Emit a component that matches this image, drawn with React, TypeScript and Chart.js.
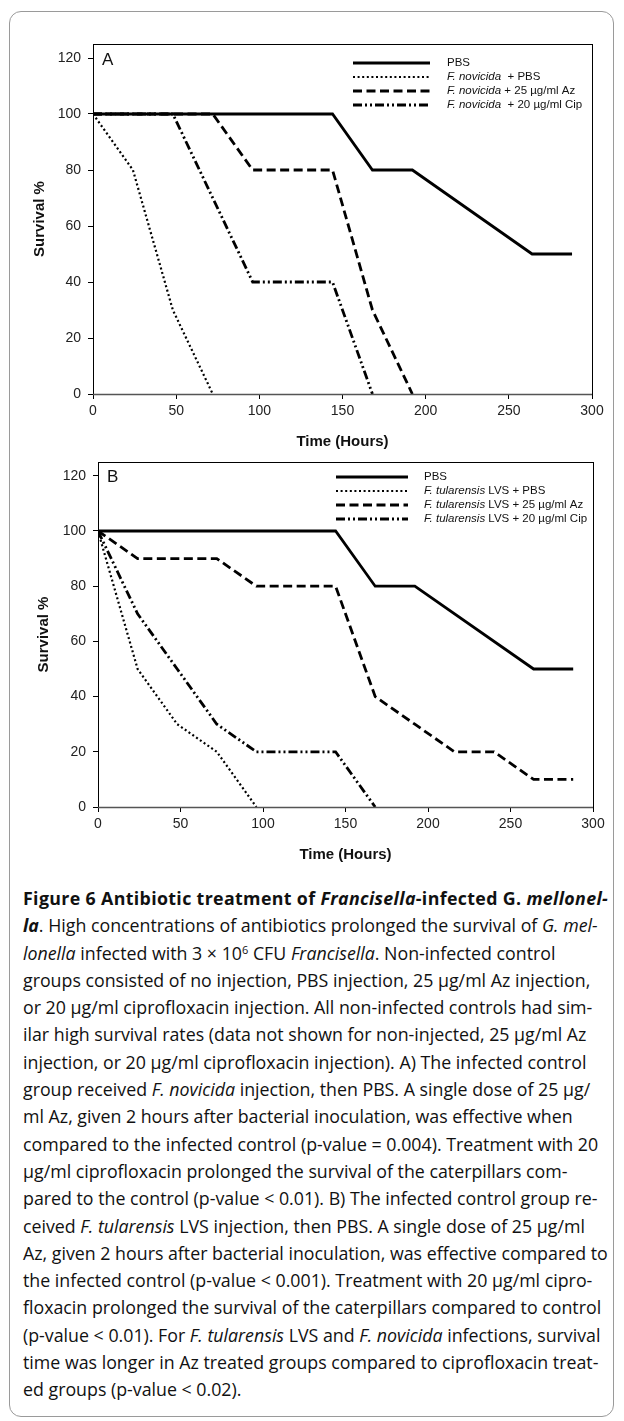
import React, { useEffect, useRef } from "react";
import { Chart, registerables } from "chart.js";
Chart.register(...registerables);

// ---------- DATA ----------
const xTicks = [0, 50, 100, 150, 200, 250, 300];
const yTicks = [0, 20, 40, 60, 80, 100, 120];

// Panel A (F. novicida)
const hoursA_PBS = [0, 144, 168, 192, 264, 288];
const survA_PBS = [100, 100, 80, 80, 50, 50];
const hoursA_Inf = [0, 24, 48, 72];
const survA_Inf = [100, 80, 30, 0];
const hoursA_Az = [0, 72, 96, 144, 168, 192];
const survA_Az = [100, 100, 80, 80, 30, 0];
const hoursA_Cip = [0, 48, 96, 144, 168];
const survA_Cip = [100, 100, 40, 40, 0];

// Panel B (F. tularensis LVS)
const hoursB_PBS = [0, 144, 168, 192, 264, 288];
const survB_PBS = [100, 100, 80, 80, 50, 50];
const hoursB_Inf = [0, 24, 48, 72, 96];
const survB_Inf = [100, 50, 30, 20, 0];
const hoursB_Az = [0, 24, 72, 96, 144, 168, 192, 216, 240, 264, 288];
const survB_Az = [100, 90, 90, 80, 80, 40, 30, 20, 20, 10, 10];
const hoursB_Cip = [0, 24, 48, 72, 96, 144, 168];
const survB_Cip = [100, 70, 50, 30, 20, 20, 0];

const legendItalicA = ["", "F. novicida", "F. novicida", "F. novicida"];
const legendRestA = ["PBS", "  + PBS", " + 25 \u00b5g/ml Az", "  + 20 \u00b5g/ml Cip"];
const legendItalicB = ["", "F. tularensis", "F. tularensis", "F. tularensis"];
const legendRestB = ["PBS", " LVS + PBS", " LVS + 25 \u00b5g/ml Az", " LVS + 20 \u00b5g/ml Cip"];

const xTitle = "Time (Hours)";
const yTitle = "Survival %";

// ---------- STYLES ----------
const lineStyles = [
  { dash: [] as number[], width: 2.8 },
  { dash: [2, 2.6], width: 2.2 },
  { dash: [9, 4.5], width: 2.8 },
  { dash: [9, 3, 2, 3, 2, 3], width: 2.8 },
];

const FONT = "'Liberation Sans', Arial, sans-serif";

function pts(xs: number[], ys: number[]) {
  return xs.map((x, i) => ({ x, y: ys[i] }));
}

type PanelCfg = {
  series: { x: number[]; y: number[] }[];
  legendItalic: string[];
  legendRest: string[];
  letter: string;
  width: number;
  height: number;
  padTop: number;
  padRight: number;
  yAxisWidth: number;
  xAxisHeight: number;
  xTitleY: number;
  yTitleX: number;
  legendX1: number;
  legendX2: number;
  legendTextX: number;
  legendY0: number;
  legendDy: number;
  letterX: number;
  letterY: number;
};

function makeChart(canvas: HTMLCanvasElement, p: PanelCfg) {
  const overlay = {
    id: "overlay",
    afterDraw(chart: any) {
      const ctx = chart.ctx as CanvasRenderingContext2D;
      const a = chart.chartArea;
      ctx.save();
      // frame
      ctx.strokeStyle = "#000";
      ctx.lineWidth = 1;
      ctx.setLineDash([]);
      ctx.strokeRect(Math.round(a.left) + 0.5, Math.round(a.top) + 0.5, Math.round(a.right - a.left), Math.round(a.bottom - a.top));
      ctx.strokeStyle = "#555";
      ctx.lineWidth = 1.5;
      ctx.beginPath();
      ctx.moveTo(a.left, Math.round(a.bottom) + 0.5);
      ctx.lineTo(a.right, Math.round(a.bottom) + 0.5);
      ctx.stroke();
      // legend
      ctx.textBaseline = "middle";
      ctx.textAlign = "left";
      for (let i = 0; i < p.legendRest.length; i++) {
        const y = p.legendY0 + i * p.legendDy;
        const st = lineStyles[i];
        ctx.strokeStyle = "#000";
        ctx.lineWidth = st.width;
        ctx.setLineDash(st.dash);
        ctx.beginPath();
        ctx.moveTo(p.legendX1, y);
        ctx.lineTo(p.legendX2, y);
        ctx.stroke();
        ctx.setLineDash([]);
        ctx.fillStyle = "#111";
        let x = p.legendTextX;
        if (p.legendItalic[i]) {
          ctx.font = `italic 11.5px ${FONT}`;
          ctx.fillText(p.legendItalic[i], x, y);
          x += ctx.measureText(p.legendItalic[i]).width;
        }
        ctx.font = `11.5px ${FONT}`;
        ctx.fillText(p.legendRest[i], x, y);
      }
      // panel letter
      ctx.font = `17px ${FONT}`;
      ctx.fillStyle = "#111";
      ctx.fillText(p.letter, p.letterX, p.letterY);
      // axis titles
      ctx.font = `bold 15px ${FONT}`;
      ctx.textAlign = "center";
      ctx.fillStyle = "#111";
      ctx.fillText(xTitle, (a.left + a.right) / 2, p.xTitleY);
      ctx.save();
      ctx.translate(p.yTitleX, (a.top + a.bottom) / 2);
      ctx.rotate(-Math.PI / 2);
      ctx.fillText(yTitle, 0, 0);
      ctx.restore();
      ctx.restore();
    },
  };

  return new Chart(canvas, {
    type: "scatter",
    data: {
      datasets: p.series.map((s, i) => ({
        label: (p.legendItalic[i] + p.legendRest[i]).trim(),
        data: pts(s.x, s.y),
        showLine: true,
        borderColor: "#000",
        backgroundColor: "#000",
        borderWidth: lineStyles[i].width,
        borderDash: lineStyles[i].dash,
        pointRadius: 0,
        tension: 0,
        fill: false,
      })),
    },
    options: {
      animation: false,
      responsive: false,
      devicePixelRatio: 1,
      layout: { padding: { top: p.padTop, right: p.padRight, left: 0, bottom: 0 } },
      plugins: { legend: { display: false }, tooltip: { enabled: false } },
      scales: {
        x: {
          type: "linear",
          min: 0,
          max: 300,
          afterBuildTicks: (s: any) => { s.ticks = xTicks.map((v) => ({ value: v })); },
          afterFit: (s: any) => { s.height = p.xAxisHeight; },
          ticks: { color: "#222", font: { family: FONT, size: 14 }, padding: 4, maxRotation: 0 },
          grid: { display: true, drawOnChartArea: false, drawTicks: true, tickLength: 5, color: "#000" },
          border: { display: false },
        },
        y: {
          type: "linear",
          min: 0,
          max: 125,
          afterBuildTicks: (s: any) => { s.ticks = yTicks.map((v) => ({ value: v })); },
          afterFit: (s: any) => { s.width = p.yAxisWidth; },
          ticks: { color: "#222", font: { family: FONT, size: 14 }, padding: 7 },
          grid: { display: true, drawOnChartArea: false, drawTicks: true, tickLength: 5, color: "#000" },
          border: { display: false },
        },
      },
    },
    plugins: [overlay],
  } as any);
}

function Panel({ cfg, top }: { cfg: PanelCfg; top: number }) {
  const ref = useRef<HTMLCanvasElement | null>(null);
  useEffect(() => {
    if (!ref.current) return;
    const ch = makeChart(ref.current, cfg);
    return () => ch.destroy();
  }, []);
  return (
    <canvas
      ref={ref}
      width={cfg.width}
      height={cfg.height}
      style={{ position: "absolute", left: 0, top, width: cfg.width, height: cfg.height }}
    />
  );
}

const panelA: PanelCfg = {
  series: [
    { x: hoursA_PBS, y: survA_PBS },
    { x: hoursA_Inf, y: survA_Inf },
    { x: hoursA_Az, y: survA_Az },
    { x: hoursA_Cip, y: survA_Cip },
  ],
  legendItalic: legendItalicA,
  legendRest: legendRestA,
  letter: "A",
  width: 624,
  height: 450,
  padTop: 44,
  padRight: 32,
  yAxisWidth: 93,
  xAxisHeight: 56,
  xTitleY: 442,
  yTitleX: 40,
  legendX1: 353,
  legendX2: 430,
  legendTextX: 447,
  legendY0: 63,
  legendDy: 14,
  letterX: 102,
  letterY: 60,
};

const panelB: PanelCfg = {
  series: [
    { x: hoursB_PBS, y: survB_PBS },
    { x: hoursB_Inf, y: survB_Inf },
    { x: hoursB_Az, y: survB_Az },
    { x: hoursB_Cip, y: survB_Cip },
  ],
  legendItalic: legendItalicB,
  legendRest: legendRestB,
  letter: "B",
  width: 624,
  height: 435,
  padTop: 22,
  padRight: 31,
  yAxisWidth: 98,
  xAxisHeight: 68,
  xTitleY: 415,
  yTitleX: 44,
  legendX1: 336,
  legendX2: 408,
  legendTextX: 424,
  legendY0: 37,
  legendDy: 14,
  letterX: 107,
  letterY: 37,
};

type Seg = { t: string; b?: boolean; i?: boolean; sup?: boolean };
const captionLines: Seg[][] = [
  [{ t: "Figure 6 Antibiotic treatment of ", b: true }, { t: "Francisella", b: true, i: true }, { t: "-infected G. ", b: true }, { t: "mellonel-", b: true, i: true }],
  [{ t: "la", b: true, i: true }, { t: ". High concentrations of antibiotics prolonged the survival of " }, { t: "G. mel-", i: true }],
  [{ t: "lonella", i: true }, { t: " infected with 3 \u00d7 10" }, { t: "6", sup: true }, { t: " CFU " }, { t: "Francisella", i: true }, { t: ". Non-infected control" }],
  [{ t: "groups consisted of no injection, PBS injection, 25 \u00b5g/ml Az injection," }],
  [{ t: "or 20 \u00b5g/ml ciprofloxacin injection. All non-infected controls had sim-" }],
  [{ t: "ilar high survival rates (data not shown for non-injected, 25 \u00b5g/ml Az" }],
  [{ t: "injection, or 20 \u00b5g/ml ciprofloxacin injection). A) The infected control" }],
  [{ t: "group received " }, { t: "F. novicida", i: true }, { t: " injection, then PBS. A single dose of 25 \u00b5g/" }],
  [{ t: "ml Az, given 2 hours after bacterial inoculation, was effective when" }],
  [{ t: "compared to the infected control (p-value = 0.004). Treatment with 20" }],
  [{ t: "\u00b5g/ml ciprofloxacin prolonged the survival of the caterpillars com-" }],
  [{ t: "pared to the control (p-value < 0.01). B) The infected control group re-" }],
  [{ t: "ceived " }, { t: "F. tularensis", i: true }, { t: " LVS injection, then PBS. A single dose of 25 \u00b5g/ml" }],
  [{ t: "Az, given 2 hours after bacterial inoculation, was effective compared to" }],
  [{ t: "the infected control (p-value < 0.001). Treatment with 20 \u00b5g/ml cipro-" }],
  [{ t: "floxacin prolonged the survival of the caterpillars compared to control" }],
  [{ t: "(p-value < 0.01). For " }, { t: "F. tularensis", i: true }, { t: " LVS and " }, { t: "F. novicida", i: true }, { t: " infections, survival" }],
  [{ t: "time was longer in Az treated groups compared to ciprofloxacin treat-" }],
  [{ t: "ed groups (p-value < 0.02)." }],
];

export default function App() {
  return (
    <div style={{ position: "absolute", left: 0, top: 0, width: 624, height: 1421, background: "#fff", overflow: "hidden" }}>
      <div
        style={{
          position: "absolute",
          left: 9,
          top: 11,
          width: 605,
          height: 1406,
          border: "1px solid #9a9a9a",
          borderRadius: 12,
          boxSizing: "border-box",
        }}
      />
      <Panel cfg={panelA} top={0} />
      <Panel cfg={panelB} top={440} />
      <div
        style={{
          position: "absolute",
          left: 23,
          top: 885,
          width: 590,
          fontFamily: "'Open Sans', sans-serif",
          fontSize: 17.8,
          lineHeight: "27.3px",
          color: "#111",
          whiteSpace: "nowrap",
        }}
      >
        {captionLines.map((line, li) => (
          <div key={li} style={li === 0 ? { letterSpacing: "0.35px" } : undefined}>
            {line.map((s, si) =>
              s.sup ? (
                <sup key={si} style={{ fontSize: 11, verticalAlign: "top", lineHeight: "20px" }}>{s.t}</sup>
              ) : (
                <span key={si} style={{ fontWeight: s.b ? 700 : 400, fontStyle: s.i ? "italic" : "normal" }}>{s.t}</span>
              )
            )}
          </div>
        ))}
      </div>
    </div>
  );
}
